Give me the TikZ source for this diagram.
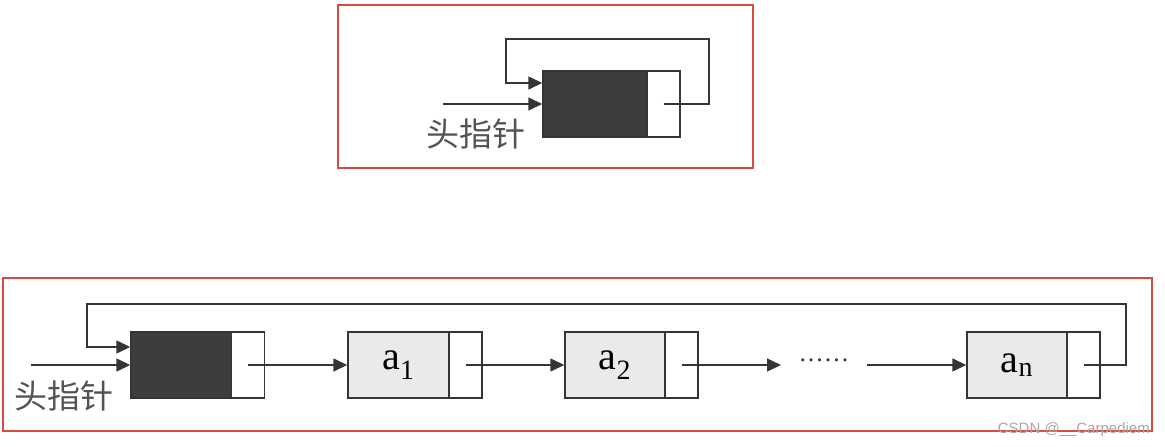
\documentclass[tikz,border=0pt]{standalone}
\usepackage{fontspec}
\setmainfont{Liberation Serif}
\newfontfamily\cjk{Noto Sans CJK SC}
\usetikzlibrary{arrows.meta}
\definecolor{frame}{HTML}{D94A40}
\definecolor{ink}{HTML}{353535}
\definecolor{darkfill}{HTML}{3D3D3D}
\definecolor{lightfill}{HTML}{EAEAEA}
\tikzset{
  cell/.style={draw=ink, line width=1.4pt, minimum height=66pt, inner sep=0pt, anchor=center},
  headdata/.style={cell, fill=darkfill},
  datacell/.style={cell, fill=lightfill, font=\fontsize{40}{40}\selectfont},
  ptrcell/.style={cell, fill=white, minimum width=33pt},
  arr/.style={draw=ink, line width=1.4pt, -{Triangle[length=14pt,width=13pt]}},
  redbox/.style={draw=frame, line width=1.8pt},
  label/.style={font=\cjk\fontsize{33}{33}\selectfont, text=ink!85, inner sep=0pt}
}
\begin{document}
\begin{tikzpicture}[x=1pt,y=-1pt]
\useasboundingbox (0,0) rectangle (1165,447);
% top frame
\draw[redbox] (338,5) rectangle (753,168);
\node[headdata, minimum width=104pt] (th) at (595,104) {};
\node[ptrcell] (tp) at (663.5,104) {};
\coordinate (tr) at (709,39);
\coordinate (tl) at (506,39);
\coordinate (tin) at (443,104);
\draw[arr] (tp.center) -| (tr) -- (tl) |- ([yshift=21pt]th.west);
\draw[arr] (tin) -- (th.west);
\node[label] (tlab) at (476,134) {头指针};
% bottom frame
\draw[redbox] (3,278) rectangle (1152,431);
\node[headdata, minimum width=101pt] (h) at (181.5,365) {};
\node[ptrcell] (hp) at (248,365) {};
\node[datacell, minimum width=101pt] (a1) at (398.5,365) {\raisebox{-3pt}{a\textsubscript{1}}};
\node[ptrcell] (a1p) at (465.5,365) {};
\node[datacell, minimum width=100pt] (a2) at (615,365) {\raisebox{-3pt}{a\textsubscript{2}}};
\node[ptrcell] (a2p) at (681.5,365) {};
\node[inner sep=0pt, font=\fontsize{26}{26}\selectfont, text=ink] (dots) at (824,360) {.\kern2pt.\kern2pt.\kern2pt.\kern2pt.\kern2pt.};
\coordinate (dr) at (781,365);
\coordinate (dl) at (867,365);
\node[datacell, minimum width=100pt] (an) at (1017,365) {\raisebox{-3pt}{a\textsubscript{n}}};
\node[ptrcell] (anp) at (1083.5,365) {};
\coordinate (br) at (1126,304);
\coordinate (bl) at (87,304);
\coordinate (bin) at (31,365);
\draw[arr] (hp.center) -- (a1.west);
\draw[arr] (a1p.center) -- (a2.west);
\draw[arr] (a2p.center) -- (dr);
\draw[arr] (dl) -- (an.west);
\draw[arr] (anp.center) -| (br) -- (bl) |- ([yshift=18pt]h.west);
\draw[arr] (bin) -- (h.west);
\node[label] (blab) at (64,396) {头指针};
\node[font=\fontspec{Liberation Sans}\fontsize{15}{15}\selectfont, text=black!35, anchor=east, inner sep=0pt] (wm) at (1150,430) {CSDN @\_\_Carpediem};
\end{tikzpicture}
\end{document}
